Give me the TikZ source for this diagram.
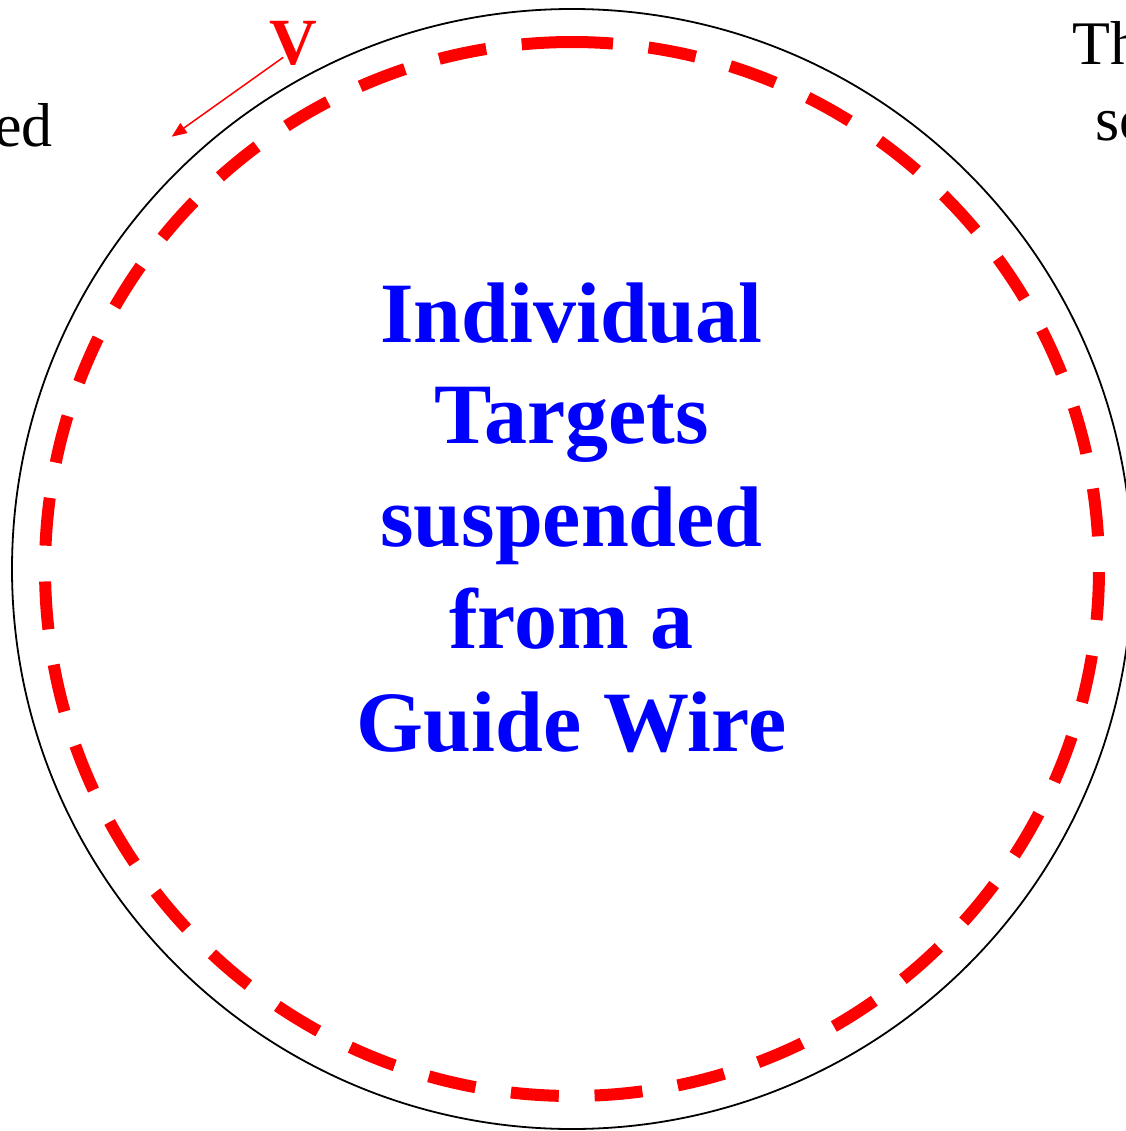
\documentclass[tikz,border=0pt]{standalone}
\usepackage{fontspec}
\setmainfont{Liberation Serif}
\usetikzlibrary{arrows.meta}
\definecolor{pureblue}{RGB}{0,0,255}
\definecolor{purered}{RGB}{255,0,0}
\begin{document}
\begin{tikzpicture}[x=1pt,y=-1pt,
  plaintext/.style={inner sep=0pt, font=\fontsize{62}{70}\selectfont},
  bluetext/.style={inner sep=0pt, anchor=base, text=pureblue,
    font=\fontsize{86}{100}\selectfont\bfseries},
  vtext/.style={inner sep=0pt, anchor=base, text=purered,
    font=\fontsize{66}{70}\selectfont\bfseries},
  outer ring/.style={line width=1.8pt},
  orbit/.style={purered, line width=12pt, dash pattern=on 48pt off 35.8pt},
  motion/.style={purered, line width=1.5pt, -{Triangle[length=15pt,width=12pt]}}]
\useasboundingbox (0,0) rectangle (1125,1131);

% outer vessel and the dashed orbit inside it
\coordinate (c) at (572,569);
\draw[outer ring] (c) circle[radius=560];
\draw[orbit] ([shift={(-90.76:527)}]c)
  arc[start angle=-90.76, end angle=269.24, radius=527];

% centre caption
\node[bluetext] (l1) at (571.5,342) {Individual};
\node[bluetext] (l2) at (571.5,443) {Targets};
\node[bluetext] (l3) at (571.5,546) {suspended};
\node[bluetext] (l4) at (571.5,648) {from a};
\node[bluetext] (l5) at (571.5,751) {Guide Wire};

% side texts, running past the frame
\node[plaintext, anchor=base east] (ed) at (53,147) {ed};
\node[plaintext, anchor=base west] (th) at (1072,65) {Th};
\node[plaintext, anchor=base west] (sc) at (1095,141) {sc};

% velocity marker
\node[vtext] (v) at (293.5,65) {V};
\coordinate (vs) at (283.3,57.3);
\coordinate (ve) at (171.7,136.7);
\draw[motion] (vs) -- (ve);
\end{tikzpicture}
\end{document}
